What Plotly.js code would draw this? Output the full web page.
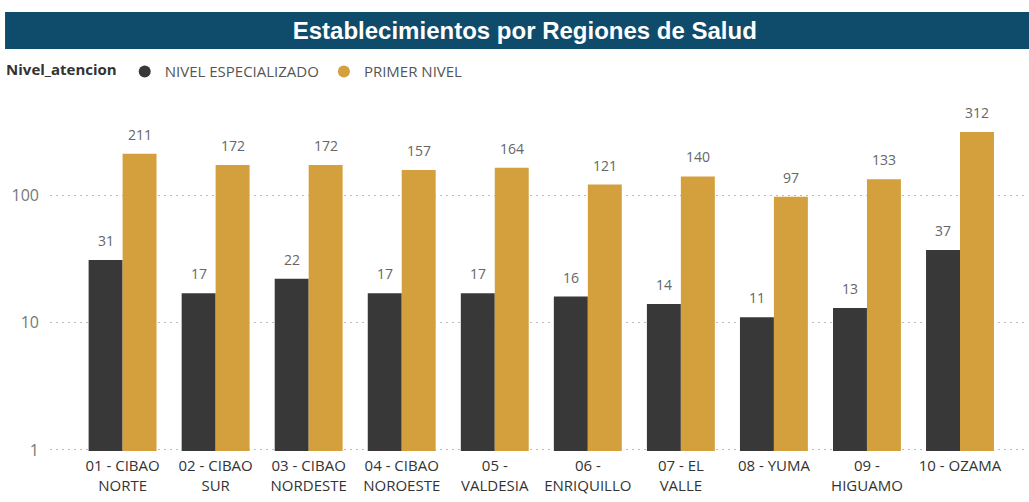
<!DOCTYPE html>
<html>
<head>
<meta charset="utf-8">
<script src="https://cdn.plot.ly/plotly-3.0.1.min.js"></script>
<style>html,body{margin:0;padding:0;background:#fff;}#chart{width:1029px;height:502px;}</style>
</head>
<body>
<div id="chart"></div>
<script>
const categories = ["01 - CIBAO<br>NORTE","02 - CIBAO<br>SUR","03 - CIBAO<br>NORDESTE","04 - CIBAO<br>NOROESTE","05 -<br>VALDESIA","06 -<br>ENRIQUILLO","07 - EL<br>VALLE","08 - YUMA","09 -<br>HIGUAMO","10 - OZAMA"];
const especializado = [31,17,22,17,17,16,14,11,13,37];
const primerNivel = [211,172,172,157,164,121,140,97,133,312];
const seriesNames = ["NIVEL ESPECIALIZADO","PRIMER NIVEL"];
const yTicks = [1,10,100];

const darkColor = "#383838";
const goldColor = "#d4a03e";
const font = "'Open Sans', 'Noto Sans', sans-serif";

const barCommon = {
  type: "bar",
  x: categories,
  showlegend: false,
  hoverinfo: "x+y"
};

const data = [
  Object.assign({}, barCommon, {name: seriesNames[0], y: especializado, marker: {color: darkColor}}),
  Object.assign({}, barCommon, {name: seriesNames[1], y: primerNivel, marker: {color: goldColor}}),
  {type: "scatter", mode: "markers", x: [categories[0]], y: [null], name: seriesNames[0], marker: {color: darkColor, size: 12, symbol: "circle"}, showlegend: true, hoverinfo: "skip"},
  {type: "scatter", mode: "markers", x: [categories[0]], y: [null], name: seriesNames[1], marker: {color: goldColor, size: 12, symbol: "circle"}, showlegend: true, hoverinfo: "skip"}
];

// value labels above bars, placed via the axes (log axis -> log10 coordinates)
const labelAnn = [];
[especializado, primerNivel].forEach(function (vals, s) {
  vals.forEach(function (v, i) {
    labelAnn.push({
      xref: "x", yref: "y",
      x: categories[i], y: Math.log10(v),
      xshift: s === 0 ? -17 : 17, yshift: 8,
      yanchor: "bottom", xanchor: "center",
      text: String(v), showarrow: false,
      font: {family: font, size: 14, color: "#666"}
    });
  });
});

const layout = {
  width: 1029, height: 502,
  margin: {l: 50, r: 2, t: 95, b: 51},
  paper_bgcolor: "#ffffff",
  plot_bgcolor: "#ffffff",
  barmode: "group",
  bargap: 0.27,
  bargroupgap: 0,
  font: {family: font, color: "#444"},
  title: {
    text: "<b>Establecimientos por Regiones de Salud</b>",
    font: {family: "'Liberation Sans', Arial, sans-serif", size: 24, color: "#ffffff"},
    x: 0.51, xref: "container", xanchor: "center",
    y: 0.939, yref: "container", yanchor: "middle"
  },
  shapes: [{
    type: "rect", xref: "paper", yref: "paper",
    x0: -0.046, x1: 1.003, y0: 1.129, y1: 1.233,
    fillcolor: "#0f4c6c", line: {width: 0}, layer: "below"
  }],
  annotations: labelAnn,
  legend: {
    orientation: "h",
    x: -0.047, xanchor: "left",
    y: 1.065, yanchor: "middle",
    bgcolor: "rgba(0,0,0,0)",
    itemwidth: 30,
    font: {family: font, size: 15, color: "#555"},
    title: {text: "<b>Nivel_atencion</b>", font: {family: font, size: 15, color: "#333"}, side: "left"},
    traceorder: "normal"
  },
  xaxis: {
    type: "category",
    range: [-0.78, 9.72],
    showgrid: false,
    zeroline: false,
    showline: false,
    ticks: "",
    ticklabelstandoff: 4,
    tickfont: {family: font, size: 15, color: "#333"},
    fixedrange: true
  },
  yaxis: {
    type: "log",
    range: [-0.008, 2.785],
    tickvals: yTicks,
    ticktext: yTicks.map(String),
    showgrid: true,
    gridcolor: "#bdbdbd",
    griddash: "2px,4px",
    gridwidth: 1,
    zeroline: false,
    showline: false,
    ticks: "",
    ticklabelstandoff: 10,
    tickfont: {family: font, size: 16, color: "#777"},
    fixedrange: true
  }
};

Plotly.newPlot("chart", data, layout, {displayModeBar: false, staticPlot: true});
</script>
</body>
</html>
